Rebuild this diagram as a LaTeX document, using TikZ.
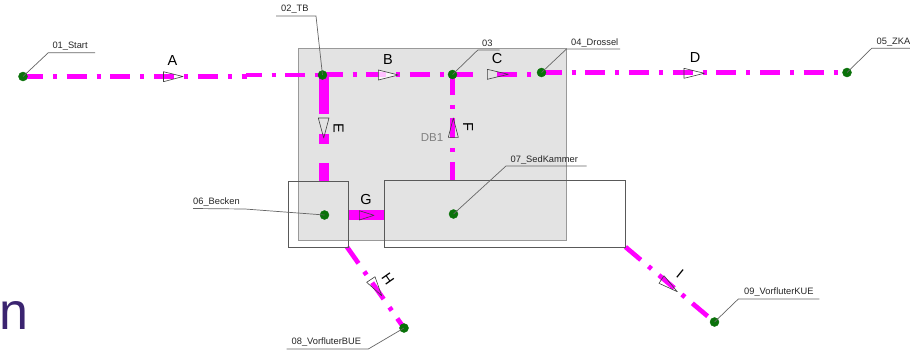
\documentclass[tikz,border=0pt]{standalone}
\usepackage{fontspec}
\setmainfont{Liberation Sans}
\definecolor{flow}{HTML}{FF00FF}
\definecolor{nodegreen}{HTML}{0A720A}
\definecolor{areafill}{HTML}{E3E3E3}
\definecolor{bigletter}{HTML}{3B2470}
\tikzset{
  pipe/.style={draw=flow,line width=4.7pt,dash pattern=on 20pt off 10pt on 4pt off 9.7pt},
  pipeC/.style={draw=flow,line width=4.7pt,dash pattern=on 20.5pt off 24pt on 20pt off 10pt on 4pt off 100pt},
  widepipe/.style={draw=flow,line width=10pt,dash pattern=on 39pt off 20pt on 10pt off 19pt},
  solidpipe/.style={draw=flow,line width=10pt},
  junction/.style={circle,fill=nodegreen,draw=nodegreen,inner sep=0pt,minimum size=9pt,line width=.4pt},
  leader/.style={draw=black!60,line width=.7pt},
  tag/.style={font=\fontsize{9.3}{11}\selectfont,text=black!85,inner sep=0pt,anchor=base west},
  flowtag/.style={font=\fontsize{14.5}{16}\selectfont,text=black,inner sep=0pt},
  flowtip/.style={draw=black!75,line width=.6pt,line join=round},
  basin/.style={draw=black!65,line width=.7pt}
}
\begin{document}
\begin{tikzpicture}[x=1pt,y=-1pt]
\useasboundingbox (0,0) rectangle (910,354);
\fill[white] (0,0) rectangle (910,354);
\draw[fill=areafill,draw=black!40,line width=.7pt] (298,48) rectangle (566.5,240.7);
\node[font=\fontsize{52}{52}\selectfont,text=bigletter,inner sep=0pt,anchor=base west] at (-0.5,329) {n};

\coordinate (n01) at (23,76.5);
\coordinate (n02) at (322.5,75);
\coordinate (n03) at (452.5,74.5);
\coordinate (n04) at (541.5,72.5);
\coordinate (n05) at (847,72.5);
\coordinate (n06) at (324.5,215);
\coordinate (n07) at (453.5,214);
\coordinate (n08) at (404,328);
\coordinate (n09) at (714.5,322);
\coordinate (a1) at (247,76.5);
\coordinate (a2) at (246,75);
\coordinate (c1) at (541.5,74.5);
\coordinate (b06top) at (324.5,181);
\coordinate (b07top) at (452.5,180.5);
\coordinate (b06r) at (348.5,215);
\coordinate (b07l) at (384,215);
\coordinate (b06c) at (347,247);
\coordinate (b07c) at (625.5,247);
\coordinate (e0) at (323.5,75);

\path[pipe] (n01) -- (a1);
\path[pipe,dash phase=4.5pt] (a2) -- (n02);
\path[pipe] (322.5,74.5) -- (n03);
\path[pipeC] (n03) -- (c1);
\path[pipe] (n04) -- (n05);
\path[widepipe] (e0) -- (b06top -| e0);
\path[pipe] (n03) -- (b07top);
\path[solidpipe] (b06r) -- (b07l);
\path[pipe] (b06c) -- (n08);
\path[pipe] (b07c) -- (n09);

\draw[basin] (288.5,181) rectangle (348.5,247);
\draw[basin] (384,180.5) rectangle (625.5,247);

\draw[flowtip] (163.5,71.7) -- (183,76.5) -- (163.5,81.7) -- cycle;
\draw[flowtip,fill=white,fill opacity=.75] (378.3,70) -- (398.3,75) -- (378.3,80) -- cycle;
\draw[flowtip] (487.3,69.3) -- (508.3,74.3) -- (487.3,79.3) -- cycle;
\draw[flowtip] (684,68.3) -- (704.3,73.3) -- (684,78.3) -- cycle;
\draw[flowtip] (318.3,118) -- (323.7,138) -- (329,118) -- cycle;
\draw[flowtip] (448.3,137.3) -- (453.3,118) -- (458.3,137.3) -- cycle;
\draw[flowtip] (359.3,210.7) -- (374,215.3) -- (359.3,220) -- cycle;
\draw[flowtip] (366.7,282.3) -- (381.7,295.7) -- (375,276.7) -- cycle;
\draw[flowtip] (659,283.3) -- (677.3,291.7) -- (664,275.7) -- cycle;

\node[flowtag] (la) at (172.5,61) {A};
\node[flowtag] (lb) at (388,60) {B};
\node[flowtag] (lc) at (497,59) {C};
\node[flowtag] (ld) at (695,58) {D};
\node[flowtag,rotate=-90] (le) at (338.5,128) {E};
\node[flowtag,rotate=-90] (lf) at (468,127) {F};
\node[flowtag] (lg) at (366,200) {G};
\node[flowtag,rotate=-55] (lh) at (388,279) {H};
\node[flowtag,rotate=-39] (li) at (680,274) {I};
\node[font=\fontsize{11.5}{13}\selectfont,text=black!50,inner sep=0pt] (db) at (432,137.5) {DB1};

\node[junction] (j01) at (n01) {};
\node[junction] (j02) at (n02) {};
\node[junction] (j03) at (n03) {};
\node[junction] (j04) at (n04) {};
\node[junction] (j05) at (n05) {};
\node[junction] (j06) at (n06) {};
\node[junction] (j07) at (n07) {};
\node[junction] (j08) at (n08) {};
\node[junction] (j09) at (n09) {};

\draw[leader] (n01) -- (48.3,52.7) -- (95,52.7);
\draw[leader] (n02) -- (316,16) -- (276,16);
\draw[leader] (n03) -- (477.8,50) -- (499.5,50);
\draw[leader] (n04) -- (566.5,49) -- (620,49);
\draw[leader] (n05) -- (871.7,48.3) -- (910,48.3);
\draw[leader] (n06) -- (245,209) -- (193,208.5);
\draw[leader] (n07) -- (506,166) -- (586.7,166);
\draw[leader] (n08) -- (368.3,349) -- (286.7,349);
\draw[leader] (n09) -- (738.3,299) -- (819.3,299);

\node[tag] (t01) at (52.3,48.5) {01\_Start};
\node[tag] (t02) at (281,11.5) {02\_TB};
\node[tag] (t03) at (482,46) {03};
\node[tag] (t04) at (571,45) {04\_Drossel};
\node[tag] (t05) at (876.5,44) {05\_ZKA};
\node[tag] (t06) at (193,204.5) {06\_Becken};
\node[tag] (t07) at (510.5,162) {07\_SedKammer};
\node[tag] (t08) at (291.5,344.5) {08\_VorfluterBUE};
\node[tag] (t09) at (744,294.5) {09\_VorfluterKUE};
\end{tikzpicture}
\end{document}
